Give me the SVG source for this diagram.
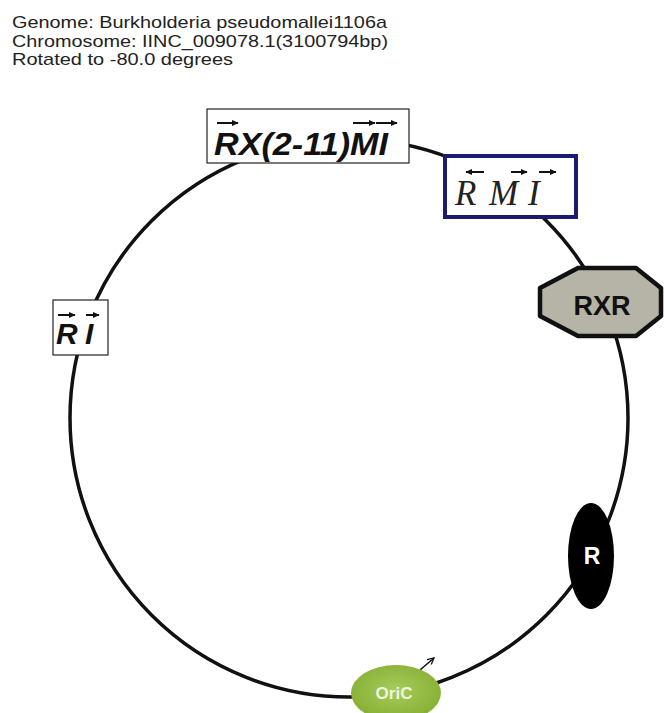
<svg xmlns="http://www.w3.org/2000/svg" width="664" height="713" viewBox="0 0 664 713">
<style>
.hdr{font-family:"Liberation Sans",Arial,sans-serif;font-size:17px;fill:#222}
.box{fill:#fff;stroke:#222;stroke-width:1.2}
.bi{font-family:"Liberation Sans",Arial,sans-serif;font-weight:bold;font-style:italic;fill:#111}
.ser{font-family:"Liberation Serif","Times New Roman",serif;font-style:italic;fill:#222;font-size:35px}
.vec{stroke:#111;stroke-width:2;fill:none;marker-end:url(#ah)}
.lbl{font-family:"Liberation Sans",Arial,sans-serif;font-weight:bold;text-anchor:middle}
</style>
<defs>
<marker id="ah" viewBox="0 0 10 10" refX="9" refY="5" markerWidth="7" markerHeight="7" orient="auto" markerUnits="userSpaceOnUse">
<path d="M0,0.5 L10,5 L0,9.5 z" fill="#111"/>
</marker>
<marker id="oa" viewBox="0 0 10 10" refX="9" refY="5" markerWidth="8" markerHeight="8" orient="auto" markerUnits="userSpaceOnUse">
<path d="M1,1 L9,5 L1,9" fill="none" stroke="#111" stroke-width="1.6"/>
</marker>
<radialGradient id="og" cx="50%" cy="45%" r="60%">
<stop offset="0" stop-color="#a6cc5a"/>
<stop offset="1" stop-color="#84ad32"/>
</radialGradient>
</defs>
<rect width="664" height="713" fill="#fff"/>
<g id="header">
<text class="hdr" x="12" y="28" textLength="375" lengthAdjust="spacingAndGlyphs">Genome: Burkholderia pseudomallei1106a</text>
<text class="hdr" x="12" y="46.5" textLength="376" lengthAdjust="spacingAndGlyphs">Chromosome: IINC_009078.1(3100794bp)</text>
<text class="hdr" x="12" y="65" textLength="221" lengthAdjust="spacingAndGlyphs">Rotated to -80.0 degrees</text>
</g>
<g id="connectors">
<circle cx="349" cy="418" r="279" fill="none" stroke="#111" stroke-width="3.5"/>
<path d="M420,670 L434,658" stroke="#111" stroke-width="1.6" fill="none" marker-end="url(#oa)"/>
</g>
<g id="node-rx211mi">
<rect class="box" x="207" y="109" width="202" height="54"/>
<text class="bi" x="214" y="155" font-size="32" textLength="174" lengthAdjust="spacingAndGlyphs">RX(2-11)MI</text>
<path class="vec" d="M217,123 H238"/>
<path class="vec" d="M353,123 H375"/>
<path class="vec" d="M376,123 H397"/>
</g>
<g id="node-rmi">
<rect x="445" y="156" width="131" height="61" fill="#fff" stroke="#1c1c6e" stroke-width="4"/>
<text class="ser" x="455" y="205">R</text>
<text class="ser" x="489" y="205">M</text>
<text class="ser" x="528" y="205">I</text>
<path class="vec" d="M484,172 H466"/>
<path class="vec" d="M511,172 H527"/>
<path class="vec" d="M539,172 H556"/>
</g>
<g id="node-rxr">
<polygon points="578,268 636,268 661,288 661,316 636,336 578,336 540,316 540,288" fill="#b6b3a7" stroke="#111" stroke-width="4.5" stroke-linejoin="round"/>
<text class="lbl" x="602" y="315" font-size="27" fill="#111">RXR</text>
</g>
<g id="node-ri">
<rect class="box" x="53" y="300" width="55" height="55"/>
<text class="bi" x="56" y="344" font-size="30">R</text>
<text class="bi" x="85" y="344" font-size="30">I</text>
<path class="vec" d="M58,315 H75"/>
<path class="vec" d="M86,315 H99"/>
</g>
<g id="node-r">
<ellipse cx="591" cy="556" rx="23" ry="53" fill="#000"/>
<text class="lbl" x="592" y="564" font-size="23" fill="#fff">R</text>
</g>
<g id="node-oric">
<ellipse cx="396" cy="693" rx="45" ry="28" fill="url(#og)"/>
<text class="lbl" x="394" y="699" font-size="17" fill="#eef4e0">OriC</text>
</g>
</svg>
